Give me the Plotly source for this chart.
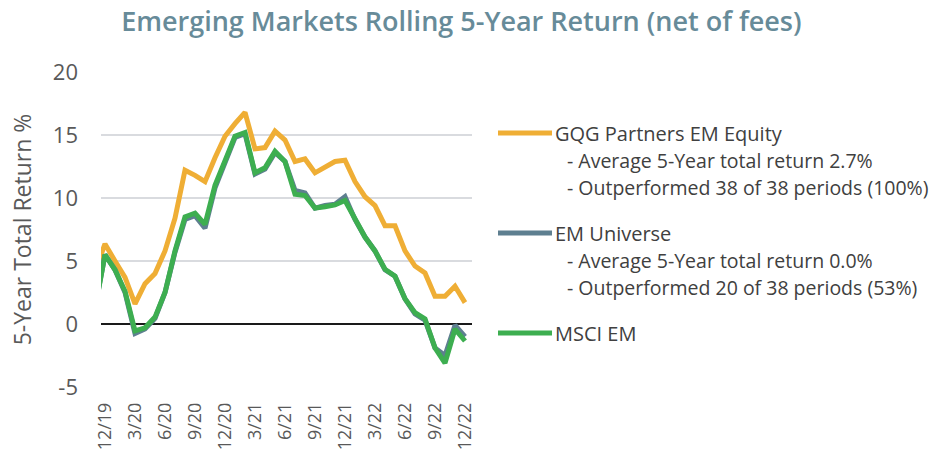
import plotly.graph_objects as go

# ---- data (monthly, 11/19 .. 12/22) ----
months = ["11/19", "12/19", "1/20", "2/20", "3/20", "4/20", "5/20", "6/20", "7/20", "8/20",
          "9/20", "10/20", "11/20", "12/20", "1/21", "2/21", "3/21", "4/21", "5/21", "6/21",
          "7/21", "8/21", "9/21", "10/21", "11/21", "12/21", "1/22", "2/22", "3/22", "4/22",
          "5/22", "6/22", "7/22", "8/22", "9/22", "10/22", "11/22", "12/22"]

gqg = [4.2, 6.35, 5.0, 3.7, 1.6, 3.2, 4.0, 5.8, 8.4, 12.2, 11.8, 11.3, 13.2, 14.9, 15.9, 16.8,
       13.9, 14.0, 15.3, 14.6, 12.9, 13.1, 12.0, 12.4, 12.9, 13.0, 11.3, 10.1, 9.4, 7.8,
       7.8, 5.8, 4.6, 4.05, 2.2, 2.2, 3.0, 1.7]

em_universe = [1.3, 5.5, 4.3, 2.5, -0.75, -0.4, 0.45, 2.5, 5.7, 8.3, 8.6, 7.6, 10.8, 12.8, 14.8, 15.1,
               11.9, 12.3, 13.6, 12.9, 10.6, 10.4, 9.2, 9.4, 9.5, 10.1, 8.3, 6.9, 5.8, 4.3,
               3.8, 2.0, 0.8, 0.3, -1.9, -2.5, -0.1, -1.0]

msci_em = [1.2, 5.5, 4.3, 2.6, -0.55, -0.3, 0.55, 2.5, 5.8, 8.5, 8.8, 7.9, 11.0, 12.9, 14.9, 15.2,
           12.0, 12.4, 13.7, 12.9, 10.3, 10.2, 9.2, 9.3, 9.45, 9.8, 8.4, 6.9, 5.8, 4.35,
           3.8, 2.0, 0.9, 0.4, -1.9, -3.1, -0.4, -1.35]

tick_labels = ["12/19", "3/20", "6/20", "9/20", "12/20", "3/21", "6/21", "9/21", "12/21",
               "3/22", "6/22", "9/22", "12/22"]

y_ticks = [-5, 0, 5, 10, 15, 20]
y_tick_text = ["-5", "0", "5", "10", "15", "20"]

legend_entries = [
    ("GQG Partners EM Equity", ["- Average 5-Year total return 2.7%",
                                "- Outperformed 38 of 38 periods (100%)"]),
    ("EM Universe", ["- Average 5-Year total return 0.0%",
                     "- Outperformed 20 of 38 periods (53%)"]),
    ("MSCI EM", []),
]

colors = {"GQG Partners EM Equity": "#EFAE35", "EM Universe": "#5E7F90", "MSCI EM": "#3DAE50"}

FONT = "Open Sans"
W, H = 932, 453
L, R, T, B = 101, 460, 72, 66

x_idx = list(range(len(months)))
tick_idx = [months.index(t) for t in tick_labels]

fig = go.Figure()
for name, vals in [("GQG Partners EM Equity", gqg), ("EM Universe", em_universe), ("MSCI EM", msci_em)]:
    fig.add_trace(go.Scatter(x=x_idx, y=vals, mode="lines", name=name,
                             line=dict(color=colors[name], width=5, shape="linear"),
                             customdata=months, hovertemplate="%{customdata}: %{y:.1f}%<extra>" + name + "</extra>"))

fig.update_layout(
    width=W, height=H,
    margin=dict(l=L, r=R, t=T, b=B, autoexpand=False),
    paper_bgcolor="white", plot_bgcolor="white",
    showlegend=False,
    font=dict(family=FONT, color="#595959"),
    title=dict(text="Emerging Markets Rolling 5-Year Return (net of fees)",
               x=0.495, xanchor="center", y=1 - 22 / H, yanchor="middle",
               font=dict(family=FONT, size=27, color="#678B99", weight=600)),
)

fig.update_xaxes(range=[0.6, 37.7], tickmode="array", tickvals=tick_idx, ticktext=tick_labels,
                 tickangle=-90, tickfont=dict(size=18, color="#595959"), automargin=False,
                 showgrid=False, zeroline=False, showline=False, ticks="", ticklabelstandoff=11)
fig.update_yaxes(range=[-5, 20], tickmode="array", tickvals=y_ticks, ticktext=y_tick_text,
                 tickfont=dict(size=22, color="#595959"), automargin=False,
                 showgrid=True, gridcolor="#D9DBDF", gridwidth=1.5,
                 zeroline=True, zerolinecolor="#1a1a1a", zerolinewidth=2,
                 ticks="", ticklabelstandoff=22,
                 title=dict(text="5-Year Total Return %", font=dict(size=23, color="#595959"), standoff=14))

# ---- custom legend (right side) ----
def px_x(p):
    return (p - L) / (W - L - R)

def px_y(p):
    return (H - B - p) / (H - T - B)

swatch_y = [133, 233, 333]
line_gap = 27
for (name, sub), sy in zip(legend_entries, swatch_y):
    fig.add_shape(type="line", xref="paper", yref="paper",
                  x0=px_x(498), x1=px_x(552), y0=px_y(sy), y1=px_y(sy),
                  line=dict(color=colors[name], width=5))
    fig.add_annotation(xref="paper", yref="paper", x=px_x(553), y=px_y(sy),
                       xanchor="left", yanchor="middle", showarrow=False,
                       text=name, font=dict(family=FONT, size=20, color="#404040"))
    for k, s in enumerate(sub):
        fig.add_annotation(xref="paper", yref="paper", x=px_x(565), y=px_y(sy + line_gap * (k + 1)),
                           xanchor="left", yanchor="middle", showarrow=False,
                           text=s, font=dict(family=FONT, size=19.5, color="#404040"))

fig.write_html("out.html", config={"displayModeBar": False},
               post_script="document.body.style.margin='0';")
